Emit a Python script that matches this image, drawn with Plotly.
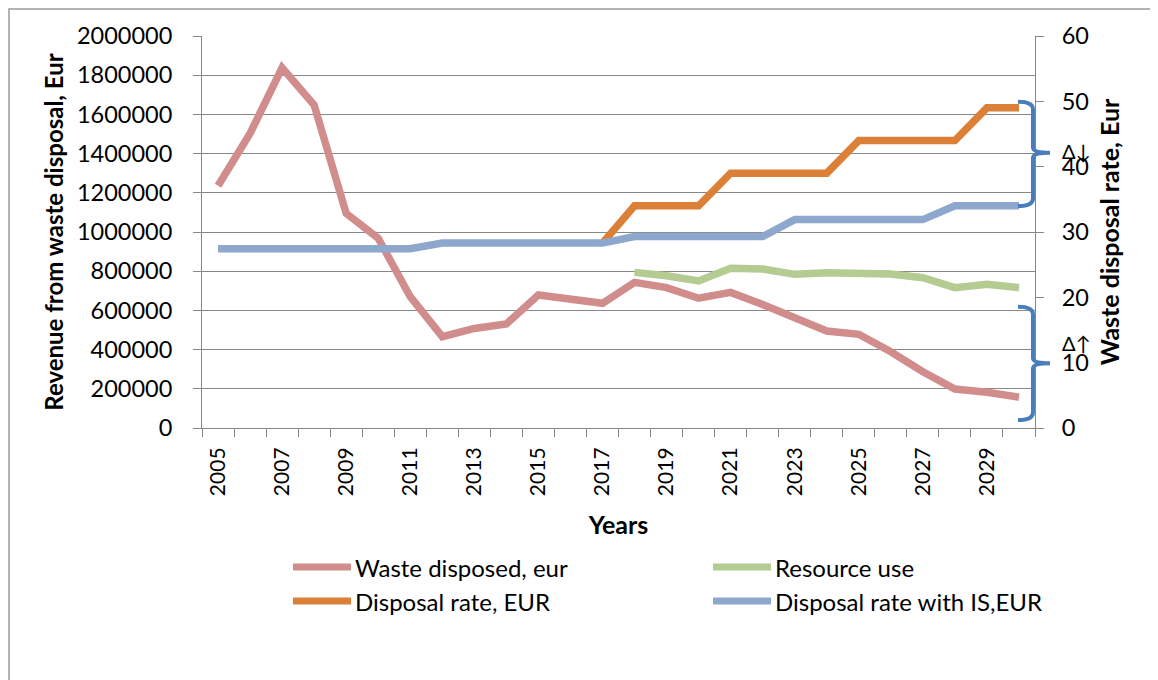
import plotly.graph_objects as go

# ---------------- data ----------------
years = [2005, 2006, 2007, 2008, 2009, 2010, 2011, 2012, 2013, 2014, 2015, 2016, 2017,
         2018, 2019, 2020, 2021, 2022, 2023, 2024, 2025, 2026, 2027, 2028, 2029, 2030]

waste_disposed = [1236000, 1503000, 1838000, 1648000, 1095000, 968000, 670000, 466000,
                  508000, 531000, 679000, 657000, 636000, 743000, 716000, 662000, 692000,
                  630000, 563000, 495000, 478000, 389000, 287000, 199000, 182000, 157000]

resource_use = [None, None, None, None, None, None, None, None, None, None, None, None, None,
                794000, 777000, 750000, 815000, 811000, 784000, 792000, 792000, 786000,
                767000, 716000, 733000, 716000]

disposal_rate = [None, None, None, None, None, None, None, None, None, None, None, None,
                 28.3, 34.0, 34.0, 34.0, 39.0, 39.0, 39.0, 39.0, 44.0, 44.0, 44.0, 44.0,
                 49.0, 49.0]

disposal_rate_is = [27.45, 27.45, 27.45, 27.45, 27.45, 27.45, 27.45, 28.3, 28.3, 28.3, 28.3,
                    28.3, 28.3, 29.3, 29.3, 29.3, 29.3, 29.3, 31.9, 31.9, 31.9, 31.9, 31.9,
                    34.0, 34.0, 34.0]

x_tick_years = [2005, 2007, 2009, 2011, 2013, 2015, 2017, 2019, 2021, 2023, 2025, 2027, 2029]
x_tick_labels = ["2005", "2007", "2009", "2011", "2013", "2015", "2017", "2019", "2021",
                 "2023", "2025", "2027", "2029"]
x_boundaries = [2004.5, 2005.5, 2006.5, 2007.5, 2008.5, 2009.5, 2010.5, 2011.5, 2012.5,
                2013.5, 2014.5, 2015.5, 2016.5, 2017.5, 2018.5, 2019.5, 2020.5, 2021.5,
                2022.5, 2023.5, 2024.5, 2025.5, 2026.5, 2027.5, 2028.5, 2029.5, 2030.5]

series_names = ["Waste disposed, eur", "Resource use", "Disposal rate, EUR",
                "Disposal rate with IS,EUR"]
series_colors = ["#d08d8c", "#b4cb91", "#dc8038", "#8ea7cc"]

# ---------------- styling ----------------
FONT = "Lato"
GRID = "#878787"
BRACE = "#4a7ebb"
LW = 7.5

fig = go.Figure()
fig.add_trace(go.Scatter(x=years, y=waste_disposed, name=series_names[0], mode="lines",
                         line=dict(color=series_colors[0], width=LW), yaxis="y"))
fig.add_trace(go.Scatter(x=years, y=resource_use, name=series_names[1], mode="lines",
                         line=dict(color=series_colors[1], width=LW), yaxis="y"))
fig.add_trace(go.Scatter(x=years, y=disposal_rate, name=series_names[2], mode="lines",
                         line=dict(color=series_colors[2], width=LW), yaxis="y2"))
fig.add_trace(go.Scatter(x=years, y=disposal_rate_is, name=series_names[3], mode="lines",
                         line=dict(color=series_colors[3], width=LW), yaxis="y2"))

# page has an 8px body margin: the figure is offset by (8, 8)
OFF = 8
W, H = 1158 - OFF, 680 - OFF
L, R, T, B = 202, 1035, 36, 428   # plot area in page pixels


def px(x):
    return (x - L) / (R - L)


def py(y):
    return (B - y) / (B - T)


shapes = []
annotations = []

# outer chart border (cropped on right / bottom)
shapes.append(dict(type="rect", xref="paper", yref="paper", x0=px(9), x1=px(1175),
                   y0=py(700), y1=py(9), line=dict(color="#9a9a9a", width=1.5),
                   fillcolor="rgba(0,0,0,0)", layer="below"))


def brace(top, tip, bottom):
    xl, xv, xt = px(1018), px(1033), px(1050)
    return ("M {xl},{top} Q {xv},{top} {xv},{a} L {xv},{b} Q {xv},{tip} {xt},{tip} "
            "Q {xv},{tip} {xv},{c} L {xv},{d} Q {xv},{bottom} {xl},{bottom}").format(
        xl=xl, xv=xv, xt=xt, top=top, tip=tip, bottom=bottom,
        a=top - 1.2, b=tip + 0.8, c=tip - 0.8, d=bottom + 1.2)


shapes.append(dict(type="path", xref="paper", yref="y2", path=brace(49.94, 42.14, 33.98),
                   line=dict(color=BRACE, width=4)))
shapes.append(dict(type="path", xref="paper", yref="y2", path=brace(18.57, 9.90, 1.22),
                   line=dict(color=BRACE, width=4)))

annotations.append(dict(text="Δ↓", xref="paper", yref="paper", x=px(1060), y=py(151),
                        xanchor="left", yanchor="middle", showarrow=False,
                        font=dict(family=FONT, size=20, color="black")))
annotations.append(dict(text="Δ↑", xref="paper", yref="paper", x=px(1060), y=py(343),
                        xanchor="left", yanchor="middle", showarrow=False,
                        font=dict(family=FONT, size=20, color="black")))

# custom legend (2 columns x 2 rows)
leg_col_x = [293, 713]
leg_row_y = [567, 601]
for i, (nm, col) in enumerate(zip(series_names, series_colors)):
    cx = leg_col_x[i % 2]
    ry = leg_row_y[i // 2]
    shapes.append(dict(type="line", xref="paper", yref="paper", x0=px(cx), x1=px(cx + 58),
                       y0=py(ry), y1=py(ry), line=dict(color=col, width=7)))
    annotations.append(dict(text=nm, xref="paper", yref="paper", x=px(cx + 60), y=py(ry),
                            xanchor="left", yanchor="middle", showarrow=False,
                            font=dict(family=FONT, size=24, color="black")))

fig.update_layout(
    width=W, height=H,
    margin=dict(l=L - OFF, r=W - (R - OFF), t=T - OFF, b=H - (B - OFF), pad=0),
    paper_bgcolor="white", plot_bgcolor="white",
    showlegend=False,
    font=dict(family=FONT, color="black"),
    xaxis=dict(
        range=[2004.5, 2030.5], automargin=False,
        tickmode="array", tickvals=x_tick_years, ticktext=x_tick_labels,
        tickangle=-90, ticks="outside", ticklen=8, tickcolor="rgba(0,0,0,0)",
        ticklabelstandoff=2,
        tickfont=dict(family=FONT, size=21, color="black"),
        showgrid=False, zeroline=False,
        showline=True, linecolor=GRID, linewidth=1,
        minor=dict(tickmode="array", tickvals=x_boundaries, ticks="outside", ticklen=8,
                   tickcolor=GRID, tickwidth=1, showgrid=False),
        title=dict(text="<b>Years</b>", font=dict(family=FONT, size=25, color="black"),
                   standoff=21),
    ),
    yaxis=dict(
        range=[0, 2000000], dtick=200000, tickformat="d", automargin=False,
        ticks="outside", ticklen=8, tickcolor=GRID, tickwidth=1,
        ticklabelstandoff=16,
        tickfont=dict(family=FONT, size=23.5, color="black"),
        showgrid=True, gridcolor=GRID, gridwidth=1,
        zeroline=False, showline=True, linecolor=GRID, linewidth=1,
        title=dict(text="<b>Revenue from waste disposal, Eur</b>",
                   font=dict(family=FONT, size=24, color="black"), standoff=6),
    ),
    yaxis2=dict(
        range=[0, 60], dtick=10, overlaying="y", side="right", anchor="x", automargin=False,
        ticks="outside", ticklen=8, tickcolor=GRID, tickwidth=1,
        ticklabelstandoff=13,
        tickfont=dict(family=FONT, size=23.5, color="black"),
        showgrid=False, zeroline=False, showline=True, linecolor=GRID, linewidth=1,
        title=dict(text="<b>Waste disposal rate, Eur</b>",
                   font=dict(family=FONT, size=25, color="black"), standoff=13),
    ),
    shapes=shapes,
    annotations=annotations,
)

fig.write_html("out.html")
